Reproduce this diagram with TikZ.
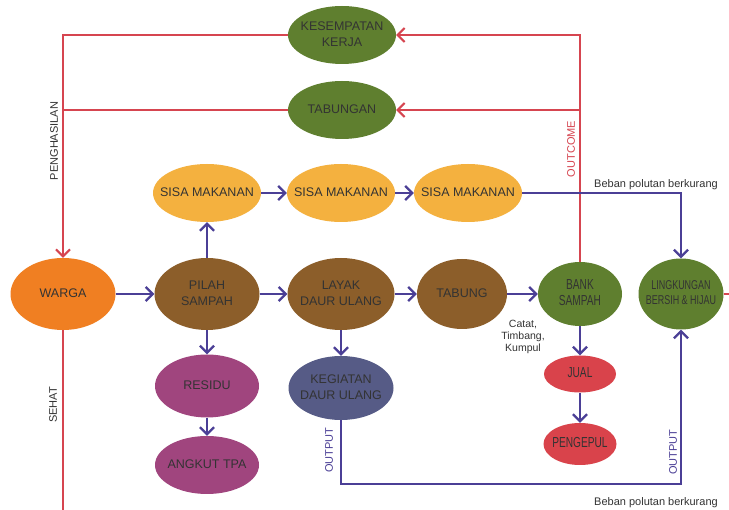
\documentclass[tikz,border=0pt]{standalone}
\usepackage{fontspec}
\setmainfont{Liberation Sans}
\newfontfamily\narrowfont[FakeStretch=0.7]{Liberation Sans}
\usetikzlibrary{shapes,arrows.meta}
\definecolor{hijau}{HTML}{5F7F2F}
\definecolor{oranye}{HTML}{F07F22}
\definecolor{coklat}{HTML}{8C5E2A}
\definecolor{kuning}{HTML}{F4B13F}
\definecolor{ungu}{HTML}{A0457E}
\definecolor{abu}{HTML}{565B86}
\definecolor{merah}{HTML}{D9434B}
\definecolor{garis}{HTML}{D64550}
\definecolor{biru}{HTML}{4B3F96}
\newcommand{\tx}[1]{\makebox[0pt]{\begin{tabular}{@{}c@{}}#1\end{tabular}}}
\begin{document}
\begin{tikzpicture}[x=1pt,y=-1pt]

\useasboundingbox[fill=white] (0,0) rectangle (729,510);

\tikzstyle{elips}=[ellipse,inner sep=0pt,text=black!80,font=\fontsize{12.5}{16}\selectfont]
\tikzstyle{sempit}=[elips,font=\narrowfont\fontsize{14.5}{16}\selectfont]
\tikzstyle{bl}=[draw=biru,line width=2.3pt,-{Straight Barb[length=7pt,width=14pt]}]
\tikzstyle{rd}=[draw=garis,line width=2pt,-{Straight Barb[length=7pt,width=14pt]}]
\tikzstyle{ket}=[font=\fontsize{11}{13}\selectfont,text=black!80]

  \node[elips,fill=hijau,minimum width=108,minimum height=58] (kes) at (342,35) {\tx{KESEMPATAN\\KERJA}};
  \node[elips,fill=hijau,minimum width=108,minimum height=58] (tab) at (342,110) {\tx{TABUNGAN}};
  \node[elips,fill=kuning,minimum width=108,minimum height=58] (sisa1) at (207,193) {\tx{SISA MAKANAN}};
  \node[elips,fill=kuning,minimum width=108,minimum height=58] (sisa2) at (341,193) {\tx{SISA MAKANAN}};
  \node[elips,fill=kuning,minimum width=108,minimum height=58] (sisa3) at (468,193) {\tx{SISA MAKANAN}};
  \node[elips,fill=oranye,minimum width=105,minimum height=72] (warga) at (63,294) {\tx{WARGA}};
  \node[elips,fill=coklat,minimum width=105,minimum height=72] (pilah) at (207,294) {\tx{PILAH\\SAMPAH}};
  \node[elips,fill=coklat,minimum width=107,minimum height=72] (layak) at (341,294) {\tx{LAYAK\\DAUR ULANG}};
  \node[elips,fill=coklat,minimum width=90,minimum height=70] (tabung) at (462,294) {\tx{TABUNG}};
  \node[sempit,fill=hijau,minimum width=84,minimum height=64] (bank) at (580,294) {\tx{BANK\\SAMPAH}};
  \node[sempit,fill=hijau,minimum width=85,minimum height=71,font=\narrowfont\fontsize{12.8}{15}\selectfont] (lingk) at (681,294) {\tx{LINGKUNGAN\\BERSIH \& HIJAU}};
  \node[elips,fill=ungu,minimum width=104,minimum height=63] (residu) at (207,386) {\tx{RESIDU}};
  \node[elips,fill=ungu,minimum width=104,minimum height=58] (angkut) at (207,465) {\tx{ANGKUT TPA}};
  \node[elips,fill=abu,minimum width=105,minimum height=64] (keg) at (341,388) {\tx{KEGIATAN\\DAUR ULANG}};
  \node[sempit,fill=merah,minimum width=72,minimum height=37] (jual) at (580,374) {\tx{JUAL}};
  \node[sempit,fill=merah,minimum width=73,minimum height=42] (pengepul) at (580,444) {\tx{PENGEPUL}};

  \coordinate (o1) at (580,110);
  \coordinate (c1) at (732,513);
  \coordinate (c2) at (681,484);

\draw[rd] (bank) |- (kes);
\draw[rd] (o1) -- (tab);
\draw[rd] (kes) -| (warga);
\draw[rd,-] (tab) -- (tab -| warga);
\draw[rd,-] (lingk) -| (c1) -| (warga);

\draw[bl] (warga) -- (pilah);
\draw[bl] (pilah) -- (layak);
\draw[bl] (layak) -- (tabung);
\draw[bl] (tabung) -- (bank);
\draw[bl] (pilah) -- (sisa1);
\draw[bl] (sisa1) -- (sisa2);
\draw[bl] (sisa2) -- (sisa3);
\draw[bl] (pilah) -- (residu);
\draw[bl] (residu) -- (angkut);
\draw[bl] (layak) -- (keg);
\draw[bl] (bank) -- (jual);
\draw[bl] (jual) -- (pengepul);
\draw[bl] (sisa3) -| (lingk);
\draw[bl] (keg) |- (c2) -- (lingk);

  \node[ket,rotate=90] (l1) at (54,141) {PENGHASILAN};
  \node[ket,rotate=90,text=garis] (l2) at (571,149) {OUTCOME};
  \node[ket,rotate=90] (l3) at (53,405) {SEHAT};
  \node[ket,rotate=90,text=biru] (l4) at (329,450) {OUTPUT};
  \node[ket,rotate=90,text=biru] (l5) at (673,452) {OUTPUT};
  \node[ket] (l6) at (656,185) {Beban polutan berkurang};
  \node[ket] (l7) at (656,503) {Beban polutan berkurang};
  \node[ket,align=center,font=\fontsize{10.5}{12}\selectfont] (l8) at (523,337) {Catat,\\Timbang,\\Kumpul};

\end{tikzpicture}
\end{document}
